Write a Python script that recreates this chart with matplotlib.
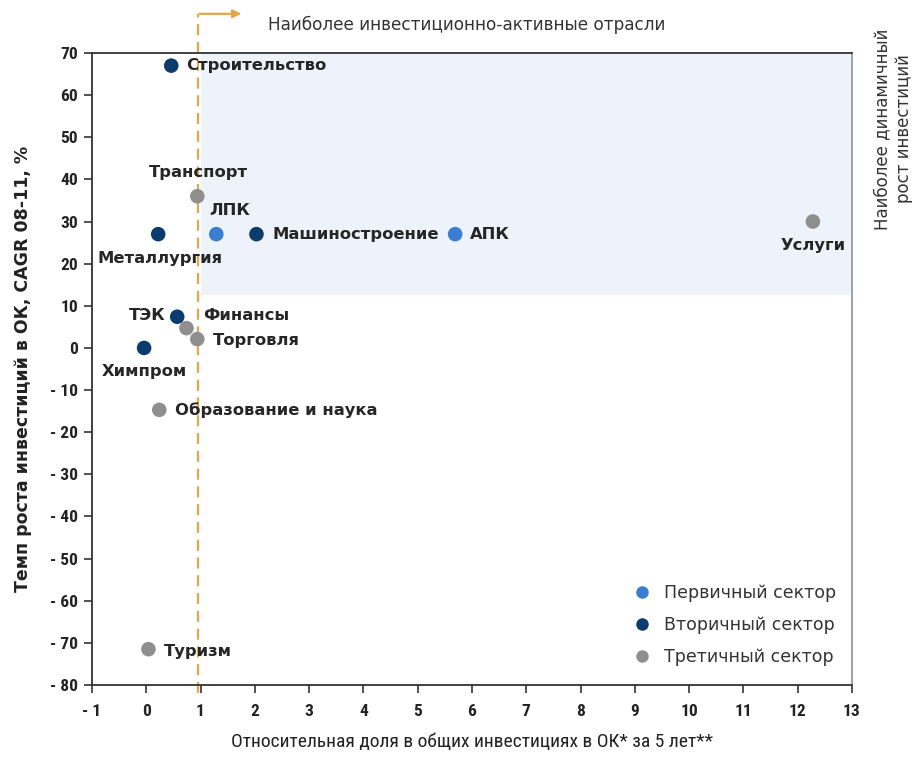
import matplotlib.pyplot as plt
from matplotlib.lines import Line2D

# sector data: relative share (x), CAGR 08-11 (y)
names = ["Строительство", "Транспорт", "ЛПК", "Металлургия", "Машиностроение", "АПК",
         "Услуги", "ТЭК", "Финансы", "Торговля", "Химпром", "Образование и наука", "Туризм"]
share = [0.46, 0.94, 1.29, 0.22, 2.03, 5.69, 12.28, 0.57, 0.74, 0.94, -0.04, 0.24, 0.04]
cagr = [67, 36, 27, 27, 27, 27, 30, 7.4, 4.7, 2.1, 0, -14.7, -71.5]
sector = [2, 3, 1, 2, 2, 1, 3, 2, 3, 3, 2, 3, 3]

sector_names = {1: "Первичный сектор", 2: "Вторичный сектор", 3: "Третичный сектор"}
sector_colors = {1: "#3b7dd0", 2: "#0c3b6d", 3: "#8f8f8f"}

# label offsets in pixels + alignment
label_pos = {
    "Строительство": (15, 0, "left"),
    "Транспорт": (1, 24, "center"),
    "ЛПК": (13, 24, "center"),
    "Металлургия": (2, -24, "center"),
    "Машиностроение": (16, 0, "left"),
    "АПК": (15, 0, "left"),
    "Услуги": (0, -24, "center"),
    "ТЭК": (-12, 1, "right"),
    "Финансы": (17, 13, "left"),
    "Торговля": (16, -1, "left"),
    "Химпром": (0, -24, "center"),
    "Образование и наука": (16, 0, "left"),
    "Туризм": (15, -2, "left"),
}

xticks = list(range(-1, 14))
yticks = list(range(-80, 71, 10))
ytick_labels = [("- " + str(-v)) if v < 0 else str(v) for v in yticks]

narrow = ["Roboto Condensed", "Liberation Sans Narrow", "DejaVu Sans"]

fig = plt.figure(figsize=(9.17, 7.58), dpi=100)
ax = fig.add_axes([0.1003, 0.0963, 0.8288, 0.8338])

# most dynamic area
ax.fill_between([1.0, 13], 12.5, 70, color="#eef2fa", zorder=0, linewidth=0)

# threshold line + arrow
ax.plot([0.95, 0.95], [-82, 79.3], color="#e3a648", ls=(0, (5, 3)), lw=1.6, clip_on=False, zorder=1)
ax.annotate("", xy=(1.8, 79.3), xytext=(0.93, 79.3), xycoords="data", annotation_clip=False,
            arrowprops=dict(arrowstyle="-|>", color="#e3a648", lw=1.6, mutation_scale=12))

cols = [sector_colors[s] for s in sector]
ax.scatter(share, cagr, s=110, c=cols, zorder=3, linewidths=0)

for n, x, y in zip(names, share, cagr):
    dx, dy, ha = label_pos[n]
    ax.annotate(n, (x, y), xytext=(dx, dy), textcoords="offset pixels", ha=ha, va="center",
                fontsize=11.8, fontweight="bold", color="#262626", zorder=4)

ax.set_xlim(-1, 13)
ax.set_ylim(-80, 70)
ax.set_xticks(xticks)
ax.set_xticklabels([str(v) if v >= 0 else "- " + str(-v) for v in xticks])
ax.set_yticks(yticks)
ax.set_yticklabels(ytick_labels)
for lab in ax.get_xticklabels() + ax.get_yticklabels():
    lab.set_family(narrow)
    lab.set_stretch("condensed")
    lab.set_fontweight("bold")
    lab.set_fontsize(12.5)
    lab.set_color("#222222")
ax.tick_params(direction="out", length=6, width=1.2, color="#333333", pad=4)
ax.tick_params(axis="x", pad=8)

for sp in ["left", "bottom", "top"]:
    ax.spines[sp].set_color("#333333")
    ax.spines[sp].set_linewidth(1.3)
ax.spines["right"].set_color("#999999")
ax.spines["right"].set_linewidth(1.3)

ax.set_ylabel("Темп роста инвестиций в ОК, CAGR 08-11, %", fontsize=12.5, fontweight="bold",
              color="#222222")
ax.yaxis.set_label_coords(-0.079, 0.5)
ax.set_xlabel("Относительная доля в общих инвестициях в ОК* за 5 лет**", fontsize=14,
              family=narrow, fontstretch="condensed", color="#222222", labelpad=10)

handles = [Line2D([], [], marker="o", ls="", markersize=9, markerfacecolor=sector_colors[k],
                  markeredgewidth=0, label=sector_names[k]) for k in (1, 2, 3)]
ax.legend(handles=handles, loc="lower right", bbox_to_anchor=(1.0, 0.005), frameon=False,
          fontsize=12.5, labelspacing=0.8, handletextpad=0.3, labelcolor="#333333")

fig.text(0.292, 0.967, "Наиболее инвестиционно-активные отрасли", fontsize=12.2, color="#333333",
         va="center", ha="left")
fig.text(0.974, 0.83, "Наиболее динамичный\nрост инвестиций", fontsize=12, color="#333333",
         rotation=90, va="center", ha="center", multialignment="center")

fig.savefig("out.png", dpi=100)
